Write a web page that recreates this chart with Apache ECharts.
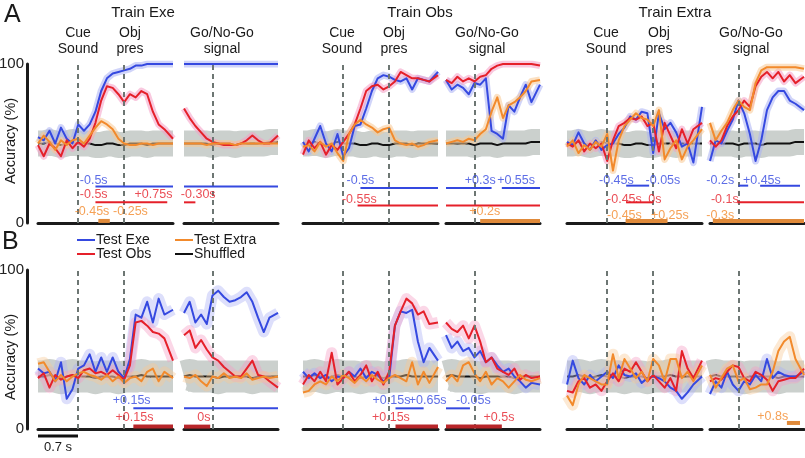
<!DOCTYPE html>
<html>
<head>
<meta charset="utf-8">
<script src="https://cdn.jsdelivr.net/npm/echarts@6/dist/echarts.min.js"></script>
<style>
  html, body { margin: 0; padding: 0; background: #fff; }
  #chart { width: 805px; height: 458px; }
</style>
</head>
<body>
<div id="chart"></div>
<script>
// time bins (s), left part aligned on object presentation, right part on the go signal
var tL = [-1.5, -1.4, -1.3, -1.2, -1.1, -1.0, -0.9, -0.8, -0.7, -0.6, -0.5, -0.4, -0.3, -0.2, -0.1, 0, 0.1, 0.2, 0.3, 0.4, 0.5, 0.6, 0.7, 0.85];
var tR = [-0.5, -0.4, -0.3, -0.2, -0.1, 0, 0.1, 0.2, 0.3, 0.4, 0.5, 0.6, 0.7, 0.8, 0.9, 1.0, 1.15];
var eventsL = [-0.8, 0];   // cue sound, object presentation
var eventsR = [0];         // go / no-go signal

// shuffled accuracy
var shufA_L = [50, 50, 51, 50, 49, 50, 51, 50, 50, 50, 49, 49, 50, 50, 49, 49, 50, 50, 50, 49, 50, 50, 50, 50];
var shufA_R = [50, 50, 50, 50, 50, 49, 50, 50, 50, 49, 50, 50, 50, 50, 50, 51, 51];
var shufB_L = [33, 33, 34, 33, 32, 33, 34, 33, 33, 33, 32, 33, 33, 33, 32, 33, 33, 33, 34, 33, 33, 33, 33, 33];
var shufB_R = [33, 34, 33, 33, 33, 33, 32, 33, 33, 33, 33, 33, 32, 33, 33, 33, 33];

// A - Train Exe
var A1L_exe = [54, 52, 58, 50, 60, 53, 50, 62, 58, 62, 70, 83, 91, 94, 95, 96, 97, 99, 99, 100, 100, 100, 100, 100];
var A1L_obs = [49, 42, 50, 47, 42, 52, 47, 51, 48, 53, 63, 77, 86, 85, 81, 76, 81, 79, 83, 81, 70, 62, 59, 53];
var A1L_ext = [50, 55, 51, 46, 52, 49, 52, 53, 50, 55, 60, 64, 62, 59, 53, 50, 49, 49, 50, 50, 49, 50, 50, 50];
var A1R_exe = [100, 100, 100, 100, 100, 100, 100, 100, 100, 100, 100, 100, 100, 100, 100, 100, 100];
var A1R_obs = [72, 66, 61, 57, 53, 51, 50, 49, 49, 49, 50, 52, 55, 52, 50, 50, 55];
var A1R_ext = [50, 50, 50, 50, 49, 50, 50, 50, 50, 49, 50, 50, 50, 50, 50, 50, 50];
// A - Train Obs
var A2L_exe = [51, 45, 53, 61, 50, 45, 56, 42, 47, 61, 62, 72, 83, 91, 93, 92, 90, 89, 91, 84, 91, 90, 89, 95];
var A2L_obs = [43, 52, 47, 51, 43, 49, 46, 51, 56, 62, 72, 83, 86, 87, 84, 86, 89, 95, 93, 91, 91, 90, 89, 93];
var A2L_ext = [48, 49, 45, 51, 48, 50, 44, 39, 56, 62, 65, 62, 60, 57, 59, 60, 52, 50, 49, 50, 48, 49, 51, 52];
var A2R_exe = [90, 84, 87, 85, 81, 88, 87, 91, 58, 56, 53, 74, 70, 79, 87, 76, 87];
var A2R_obs = [90, 88, 92, 89, 91, 89, 92, 93, 97, 99, 100, 100, 100, 100, 100, 100, 99];
var A2R_ext = [50, 51, 52, 51, 53, 52, 56, 59, 70, 79, 66, 74, 76, 79, 83, 89, 90];
// A - Train Extra
var A3L_exe = [51, 49, 57, 50, 46, 52, 46, 49, 50, 56, 60, 67, 65, 70, 69, 44, 69, 59, 63, 57, 48, 50, 38, 73];
var A3L_obs = [50, 48, 52, 45, 50, 47, 50, 39, 52, 61, 63, 66, 65, 67, 61, 63, 45, 63, 55, 47, 59, 50, 59, 63];
var A3L_ext = [48, 52, 44, 49, 46, 51, 48, 56, 33, 52, 61, 65, 69, 66, 65, 61, 71, 40, 47, 52, 40, 48, 52, 59];
var A3R_exe = [39, 52, 50, 58, 65, 77, 69, 56, 39, 52, 71, 79, 83, 83, 77, 75, 71];
var A3R_obs = [52, 48, 52, 61, 67, 71, 77, 73, 86, 92, 95, 91, 95, 89, 93, 88, 92];
var A3R_ext = [63, 52, 58, 63, 71, 77, 73, 71, 88, 96, 98, 98, 98, 98, 98, 98, 97];
// B - Train Exe
var B1L_exe = [38, 35, 36, 30, 42, 19, 25, 38, 40, 47, 36, 45, 36, 45, 36, 32, 44, 72, 70, 80, 67, 82, 72, 75];
var B1L_obs = [32, 35, 26, 34, 31, 33, 34, 32, 37, 38, 35, 36, 34, 37, 34, 31, 40, 67, 68, 65, 61, 60, 57, 43];
var B1L_ext = [41, 42, 36, 30, 34, 30, 33, 35, 36, 34, 33, 31, 34, 30, 33, 29, 32, 33, 30, 36, 38, 30, 36, 32];
var B1R_exe = [73, 80, 67, 72, 66, 84, 87, 83, 80, 81, 83, 86, 80, 70, 61, 70, 73];
var B1R_obs = [59, 62, 51, 56, 50, 45, 43, 39, 36, 33, 33, 38, 43, 34, 33, 30, 26];
var B1R_ext = [33, 32, 34, 30, 27, 33, 32, 35, 32, 33, 32, 35, 31, 32, 33, 32, 33];
// B - Train Obs
var B2L_exe = [36, 32, 35, 32, 34, 30, 33, 32, 36, 33, 38, 32, 36, 34, 30, 32, 65, 74, 73, 75, 55, 42, 51, 43];
var B2L_obs = [28, 34, 30, 36, 30, 48, 28, 32, 36, 30, 34, 40, 30, 36, 28, 36, 65, 74, 82, 79, 72, 74, 66, 67];
var B2L_ext = [23, 24, 28, 30, 28, 33, 30, 34, 32, 29, 33, 30, 34, 31, 29, 32, 34, 32, 30, 42, 28, 36, 29, 39];
var B2R_exe = [59, 51, 55, 49, 51, 45, 49, 42, 45, 40, 36, 38, 33, 30, 26, 29, 28];
var B2R_obs = [67, 63, 61, 65, 57, 65, 55, 42, 45, 38, 36, 34, 38, 31, 34, 32, 33];
var B2R_ext = [30, 34, 30, 40, 42, 35, 30, 36, 28, 32, 30, 26, 30, 34, 31, 30, 32];
// B - Train Extra
var B3L_exe = [28, 43, 32, 28, 34, 30, 33, 36, 32, 40, 34, 33, 35, 29, 32, 33, 32, 30, 26, 24, 19, 23, 28, 33];
var B3L_obs = [24, 23, 30, 32, 26, 28, 24, 30, 35, 30, 38, 36, 42, 36, 30, 34, 30, 26, 32, 24, 49, 38, 32, 43];
var B3L_ext = [21, 15, 28, 34, 32, 30, 28, 28, 47, 32, 44, 38, 32, 36, 30, 44, 40, 30, 44, 44, 32, 36, 30, 40];
var B3R_exe = [22, 30, 26, 36, 28, 24, 30, 28, 34, 30, 44, 32, 36, 34, 33, 33, 36];
var B3R_obs = [30, 32, 31, 36, 40, 39, 32, 30, 36, 34, 31, 24, 30, 31, 32, 32, 38];
var B3R_ext = [34, 26, 32, 38, 40, 30, 32, 25, 26, 28, 28, 36, 49, 55, 58, 44, 34];

// significance periods: [part, series, start, end, level]
var A1_bars = [['L', 'exe', -0.5, 0.85, 23], ['R', 'exe', -0.5, 1.15, 23], ['L', 'obs', -0.5, 0.75, 13], ['R', 'obs', -0.5, -0.3, 13], ['L', 'ext', -0.45, -0.25, 1.3]];
var A2_bars = [['L', 'exe', -0.5, 0.85, 22], ['R', 'exe', -0.5, 0.3, 22], ['R', 'exe', 0.48, 1.15, 22], ['L', 'obs', -0.55, 0.85, 11], ['R', 'obs', -0.5, 1.15, 11], ['R', 'ext', 0.1, 1.15, 1.3]];
var A3_bars = [['L', 'exe', -0.47, -0.07, 23.5], ['R', 'exe', 0, 0.17, 23.5], ['R', 'exe', 0.38, 1.08, 23.5], ['L', 'obs', -0.47, 0, 13], ['R', 'obs', -0.02, 1.15, 13], ['L', 'ext', -0.48, 0.25, 1.3], ['R', 'ext', -0.45, 1.15, 1.3]];
var B1_bars = [['L', 'exe', 0.16, 0.85, 13], ['R', 'exe', -0.5, 1.15, 13], ['L', 'obs', 0.16, 0.85, 1.5], ['R', 'obs', -0.5, -0.04, 1.5]];
var B2_bars = [['L', 'exe', 0.11, 0.6, 13], ['R', 'exe', -0.5, -0.08, 13], ['L', 'obs', 0.11, 0.85, 1.5], ['R', 'obs', -0.5, 0.48, 1.5]];
var B3_bars = [['R', 'ext', 0.85, 1.08, 3.8]];

// onset / offset texts: [part, series, time, level, text]
var A1_labels = [['L', 'exe', -0.53, 27, '-0.5s'], ['L', 'obs', -0.53, 17.6, '-0.5s'], ['L', 'obs', 0.51, 17.6, '+0.75s'], ['R', 'obs', -0.25, 17.6, '-0.30s'], ['L', 'ext', -0.56, 7, '-0.45s'], ['L', 'ext', 0.11, 7, '-0.25s']];
var A2_labels = [['L', 'exe', -0.5, 27, '-0.5s'], ['R', 'exe', 0.1, 27, '+0.3s'], ['R', 'exe', 0.73, 27, '+0.55s'], ['L', 'obs', -0.52, 15, '-0.55s'], ['R', 'ext', 0.18, 7, '+0.2s']];
var A3_labels = [['L', 'exe', -0.64, 27, '-0.45s'], ['L', 'exe', 0.17, 27, '-0.05s'], ['R', 'exe', -0.32, 27, '-0.2s'], ['R', 'exe', 0.41, 27, '+0.45s'], ['L', 'obs', -0.5, 15, '-0.45s'], ['L', 'obs', 0.03, 15, '0s'], ['R', 'obs', -0.24, 15, '-0.1s'], ['L', 'ext', -0.5, 4.5, '-0.45s'], ['L', 'ext', 0.29, 4.5, '+0.25s'], ['R', 'ext', -0.32, 4.5, '-0.3s']];
var B1_labels = [['L', 'exe', 0.13, 18, '+0.15s'], ['L', 'obs', 0.18, 7, '+0.15s'], ['R', 'obs', -0.15, 7, '0s']];
var B2_labels = [['L', 'exe', 0.04, 18, '+0.15s'], ['L', 'exe', 0.67, 18, '+0.65s'], ['R', 'exe', -0.02, 18, '-0.05s'], ['L', 'obs', 0.03, 7, '+0.15s'], ['R', 'obs', 0.43, 7, '+0.5s']];
var B3_labels = [['R', 'ext', 0.6, 8, '+0.8s']];

var colTitles = ['Train Exe', 'Train Obs', 'Train Extra'];

// styles
var FONT = "'Liberation Sans', Arial, sans-serif";
var LINE = { exe: '#3549e0', obs: '#e5202a', ext: '#f28a2c' };
var BAND = { exe: '#a9b0f4', obs: '#f49cc4', ext: '#f8c894' };
var colX = [[38, 184], [303, 446], [567, 710]];   // left edge of each part
var partW = [135, 94];
var rowTop = [64, 270];
var rowH = 159;

var panels = [
    { row: 0, col: 0, L: [A1L_exe, A1L_obs, A1L_ext], R: [A1R_exe, A1R_obs, A1R_ext], bars: A1_bars, labels: A1_labels },
    { row: 0, col: 1, L: [A2L_exe, A2L_obs, A2L_ext], R: [A2R_exe, A2R_obs, A2R_ext], bars: A2_bars, labels: A2_labels },
    { row: 0, col: 2, L: [A3L_exe, A3L_obs, A3L_ext], R: [A3R_exe, A3R_obs, A3R_ext], bars: A3_bars, labels: A3_labels },
    { row: 1, col: 0, L: [B1L_exe, B1L_obs, B1L_ext], R: [B1R_exe, B1R_obs, B1R_ext], bars: B1_bars, labels: B1_labels },
    { row: 1, col: 1, L: [B2L_exe, B2L_obs, B2L_ext], R: [B2R_exe, B2R_obs, B2R_ext], bars: B2_bars, labels: B2_labels },
    { row: 1, col: 2, L: [B3L_exe, B3L_obs, B3L_ext], R: [B3R_exe, B3R_obs, B3R_ext], bars: B3_bars, labels: B3_labels }
];

function zip(t, v) {
    return t.map(function (x, i) { return [x, v[i]]; });
}

var grids = [], xAxes = [], yAxes = [], series = [];
var keys = ['exe', 'obs', 'ext'];

panels.forEach(function (p) {
    ['L', 'R'].forEach(function (part, s) {
        var gi = grids.length;
        var t = part === 'L' ? tL : tR;
        var shuf = p.row === 0 ? (part === 'L' ? shufA_L : shufA_R) : (part === 'L' ? shufB_L : shufB_R);
        grids.push({
            left: colX[p.col][s], top: rowTop[p.row], width: partW[s], height: rowH,
            containLabel: false, outerBoundsMode: 'none'
        });
        xAxes.push({
            gridIndex: gi, type: 'value',
            min: part === 'L' ? -1.5 : -0.5, max: part === 'L' ? 0.85 : 1.15,
            axisLine: { show: true, onZero: false, lineStyle: { color: '#1b1b1b', width: 3 } },
            axisTick: { show: false }, axisLabel: { show: false }, splitLine: { show: false }
        });
        var showY = p.col === 0 && s === 0;
        yAxes.push({
            gridIndex: gi, type: 'value', min: 0, max: 100, interval: 100,
            show: showY, position: 'left', offset: 11,
            axisLine: { show: true, onZero: false, lineStyle: { color: '#1b1b1b', width: 3 } },
            axisTick: { show: false },
            axisLabel: { fontSize: 15, color: '#222', margin: 3, fontFamily: FONT },
            splitLine: { show: false }
        });

        // shuffled distribution band and mean
        series.push({
            type: 'line', xAxisIndex: gi, yAxisIndex: gi, data: zip(t, shuf), symbol: 'none', silent: true, z: 1,
            lineStyle: { color: '#cbd0cd', width: p.row === 0 ? 26 : 32, cap: 'butt', join: 'round' }
        });
        series.push({
            type: 'line', xAxisIndex: gi, yAxisIndex: gi, data: zip(t, shuf), symbol: 'none', silent: true, z: 2,
            lineStyle: { color: '#111', width: 2 },
            markLine: {
                silent: true, symbol: ['none', 'none'], label: { show: false },
                lineStyle: { type: [5, 4], color: '#6d7673', width: 2 },
                data: (part === 'L' ? eventsL : eventsR).map(function (e) { return { xAxis: e }; })
            }
        });

        // test series: shaded error and mean
        p[part].forEach(function (vals, k) {
            series.push({
                type: 'line', xAxisIndex: gi, yAxisIndex: gi, data: zip(t, vals), symbol: 'none', silent: true, z: 3,
                lineStyle: { color: BAND[keys[k]], width: p.row === 0 ? 7 : 11, opacity: p.row === 0 ? 0.55 : 0.4, cap: 'butt', join: 'round' }
            });
        });
        p[part].forEach(function (vals, k) {
            series.push({
                type: 'line', xAxisIndex: gi, yAxisIndex: gi, data: zip(t, vals), symbol: 'none', silent: true, z: 4,
                lineStyle: { color: LINE[keys[k]], width: 2, join: 'round' }
            });
        });

        // significance bars
        p.bars.filter(function (b) { return b[0] === part; }).forEach(function (b) {
            series.push({
                type: 'line', xAxisIndex: gi, yAxisIndex: gi, data: [[b[2], b[4]], [b[3], b[4]]], symbol: 'none', silent: true, z: 5,
                lineStyle: { color: b[4] < 5 ? (b[1] === 'obs' ? '#b8262a' : '#e08a3a') : LINE[b[1]], width: b[4] < 5 ? 4 : 2, cap: 'butt' }
            });
        });

        // onset texts
        var labs = p.labels.filter(function (l) { return l[0] === part; });
        if (labs.length) {
            series.push({
                type: 'scatter', xAxisIndex: gi, yAxisIndex: gi, symbolSize: 0.1, silent: true, z: 6,
                itemStyle: { color: 'transparent' },
                data: labs.map(function (l) {
                    return {
                        value: [l[2], l[3]], name: l[4],
                        label: { show: true, position: 'inside', formatter: '{b}', color: LINE[l[1]], fontSize: 12.5, fontFamily: FONT }
                    };
                })
            });
        }
    });
});

// text, legend and scale bar
var graphic = [];
function txt(x, y, s, size, align, rot) {
    graphic.push({
        type: 'text', x: x, y: y, rotation: rot || 0, silent: true,
        style: { text: s, fontSize: size, fontFamily: FONT, fill: '#1a1a1a', textAlign: align || 'center', textVerticalAlign: 'middle' }
    });
}
txt(4, 15, 'A', 25, 'left');
txt(2, 242, 'B', 25, 'left');
txt(11, 141, 'Accuracy (%)', 14.5, 'center', Math.PI / 2);
txt(11, 357, 'Accuracy (%)', 14.5, 'center', Math.PI / 2);
var evCue = [78, 342, 606], evObj = [130, 394, 659], evGo = [222, 487, 751], titleX = [143, 420, 675];
for (var c = 0; c < 3; c++) {
    txt(titleX[c], 13, colTitles[c], 15);
    txt(evCue[c], 33, 'Cue', 14); txt(evCue[c], 49, 'Sound', 14);
    txt(evObj[c], 33, 'Obj', 14); txt(evObj[c], 49, 'pres', 14);
    txt(evGo[c], 33, 'Go/No-Go', 14); txt(evGo[c], 49, 'signal', 14);
}
var legendItems = [['Test Exe', LINE.exe, 77, 240], ['Test Obs', LINE.obs, 77, 254], ['Test Extra', LINE.ext, 175, 240], ['Shuffled', '#111', 175, 254]];
legendItems.forEach(function (li) {
    graphic.push({ type: 'line', silent: true, shape: { x1: li[2], y1: li[3], x2: li[2] + 18, y2: li[3] }, style: { stroke: li[1], lineWidth: 2 } });
    txt(li[2] + 19, li[3], li[0], 14, 'left');
});
graphic.push({ type: 'line', silent: true, shape: { x1: 38, y1: 436, x2: 78, y2: 436 }, style: { stroke: '#111', lineWidth: 3 } });
txt(58, 447, '0.7 s', 13);

var chart = echarts.init(document.getElementById('chart'), null, { renderer: 'canvas' });
chart.setOption({
    animation: false,
    grid: grids,
    xAxis: xAxes,
    yAxis: yAxes,
    series: series,
    graphic: graphic
});
</script>
</body>
</html>
